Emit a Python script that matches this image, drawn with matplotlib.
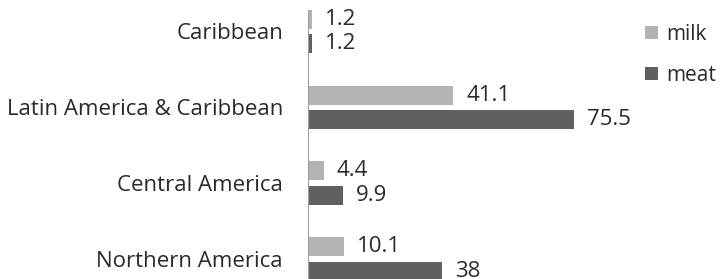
import matplotlib.pyplot as plt
import numpy as np

regions = ['Northern America', 'Central America', 'Latin America & Caribbean', 'Caribbean']
milk = [10.1, 4.4, 41.1, 1.2]
meat = [38, 9.9, 75.5, 1.2]

plt.rcParams['font.family'] = ['Open Sans', 'DejaVu Sans']

W, H = 721, 279
fig = plt.figure(figsize=(W / 100, H / 100), dpi=100)

# axes placed in pixels; bottom runs past the figure edge like the original crop
left, right, top, bottom = 308, 590, 10, 297
ax = fig.add_axes([left / W, (H - bottom) / H, (right - left) / W, (bottom - top) / H])

y = np.arange(len(regions))
h = 0.25
off = 0.16
milk_c = '#b3b3b3'
meat_c = '#606060'
txt_c = '#2a2a2a'

b1 = ax.barh(y + off, milk, height=h, color=milk_c, label='milk')
b2 = ax.barh(y - off, meat, height=h, color=meat_c, label='meat')

for bars, vals in ((b1, milk), (b2, meat)):
    for b, v in zip(bars, vals):
        ax.annotate(f'{v:g}', xy=(b.get_width(), b.get_y() + b.get_height() / 2),
                    xytext=(9.5, 0), textcoords='offset points',
                    va='center', ha='left', fontsize=16, color=txt_c)

ax.set_xlim(0, 80)
ax.set_ylim(-0.5, 3.28)
ax.set_yticks(y)
ax.set_yticklabels(regions, fontsize=16, color=txt_c)
ax.tick_params(axis='y', length=0, pad=18)
ax.set_xticks([])

for s in ['top', 'right', 'bottom']:
    ax.spines[s].set_visible(False)
ax.spines['left'].set_color('#a0a0a0')

fig.legend(handles=[b1, b2], labels=['milk', 'meat'], loc='upper left',
           bbox_to_anchor=(645 / W, 1 - 24 / H), frameon=False, fontsize=15,
           handlelength=0.6, handleheight=0.6, handletextpad=0.4, labelspacing=0.95,
           labelcolor=txt_c, borderpad=0, borderaxespad=0)

fig.savefig('out.png', dpi=100)
